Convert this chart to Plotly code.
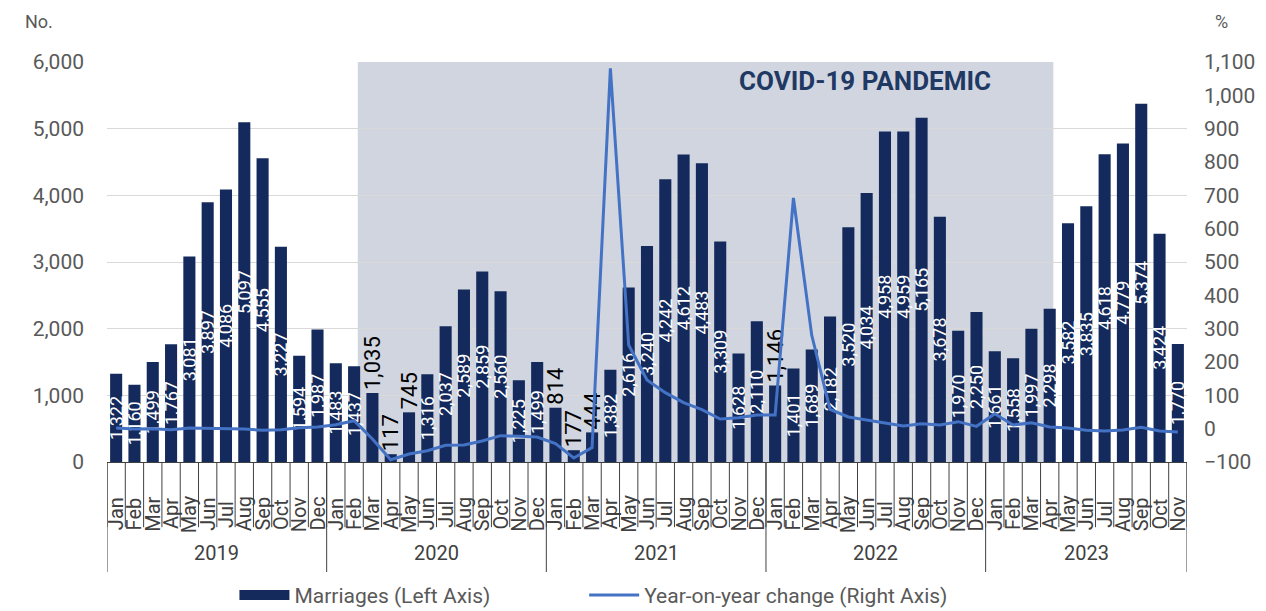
import plotly.graph_objects as go

years = ["2019", "2020", "2021", "2022", "2023"]
months = ["Jan", "Feb", "Mar", "Apr", "May", "Jun", "Jul", "Aug", "Sep", "Oct", "Nov", "Dec"]

marriages_2019 = [1322, 1160, 1499, 1767, 3081, 3897, 4086, 5097, 4555, 3227, 1594, 1987]
marriages_2020 = [1483, 1437, 1035, 117, 745, 1316, 2037, 2589, 2859, 2560, 1225, 1499]
marriages_2021 = [814, 177, 444, 1382, 2616, 3240, 4242, 4612, 4483, 3309, 1628, 2110]
marriages_2022 = [1146, 1401, 1689, 2182, 3520, 4034, 4958, 4959, 5165, 3678, 1970, 2250]
marriages_2023 = [1661, 1558, 1997, 2298, 3582, 3835, 4618, 4779, 5374, 3424, 1770]

yoy_2019 = [2, -1, 0, -3, 2, 1, 0, -1, -5, -3, 3, 5]
yoy_2020 = [12, 24, -31, -93, -76, -66, -50, -49, -37, -21, -23, -25]
yoy_2021 = [-45, -88, -57, 1081, 251, 146, 108, 78, 57, 29, 33, 41]
yoy_2022 = [41, 692, 280, 58, 35, 25, 17, 8, 15, 11, 21, 7]
yoy_2023 = [45, 11, 18, 5, 2, -5, -7, -4, 4, -7, -10]

# labels Excel put above the bar instead of inside it
outside_labels = [(2020, "Mar"), (2020, "Apr"), (2020, "May"), (2021, "Jan"),
                  (2021, "Feb"), (2021, "Mar"), (2022, "Jan")]

marriages = marriages_2019 + marriages_2020 + marriages_2021 + marriages_2022 + marriages_2023
yoy = yoy_2019 + yoy_2020 + yoy_2021 + yoy_2022 + yoy_2023
per_year = [len(marriages_2019), len(marriages_2020), len(marriages_2021),
            len(marriages_2022), len(marriages_2023)]

month_of = []
year_of = []
for y, n in zip(years, per_year):
    for m in months[:n]:
        month_of.append(m)
        year_of.append(int(y))
x = list(range(len(marriages)))

FONT = "Roboto, Arial, sans-serif"
GREY = "#595959"
DARK = "#404040"
BAR = "#142A5C"
LINE = "#4472C4"

positions = ["outside" if (yr, m) in outside_labels else "inside"
             for yr, m in zip(year_of, month_of)]

fig = go.Figure()
fig.add_bar(
    x=x, y=marriages, name="Marriages (Left Axis)", showlegend=False,
    marker=dict(color=BAR, line=dict(width=0)),
    text=[f"{v:,}" for v in marriages], textposition=positions,
    textangle=-90, insidetextanchor="middle", constraintext="none",
    insidetextfont=dict(color="white", size=18, family=FONT),
    outsidetextfont=dict(color="black", size=22, family=FONT),
    cliponaxis=False,
)
# legend entry for the bars: wide dark swatch like the original
fig.add_scatter(x=[None], y=[None], mode="lines", name="Marriages (Left Axis)",
                line=dict(color=BAR, width=15), legend="legend")
fig.add_scatter(
    x=x, y=yoy, name="Year-on-year change (Right Axis)", yaxis="y2",
    mode="lines", line=dict(color=LINE, width=3), legend="legend2",
)

# covid shading, Mar 2020 - Apr 2023
fig.add_shape(type="rect", xref="x", yref="paper", x0=13.2, x1=51.2, y0=0, y1=1,
              fillcolor="#D0D5DF", line=dict(width=0), layer="below")
fig.add_annotation(x=40.9, y=6000, xref="x", yref="y", text="<b>COVID-19 PANDEMIC</b>",
                   showarrow=False, yanchor="top", yshift=-2,
                   font=dict(family=FONT, size=26, color="#1F3864"))

# month labels and dividers
for i, m in enumerate(month_of):
    fig.add_annotation(x=i, y=-0.13, xref="x", yref="paper", text=m, textangle=-90,
                       showarrow=False, xanchor="center", yanchor="middle",
                       font=dict(family=FONT, size=20, color=DARK))
for i in range(len(x) + 1):
    fig.add_shape(type="line", xref="x", yref="paper", x0=i - 0.5, x1=i - 0.5,
                  y0=0, y1=-0.163, line=dict(color=DARK, width=1))

# year labels and dividers
start = 0
for y, n in zip(years, per_year):
    fig.add_annotation(x=start + (n - 1) / 2, y=-0.2275, xref="x", yref="paper", text=y,
                       showarrow=False, xanchor="center", yanchor="middle",
                       font=dict(family=FONT, size=20, color=DARK))
    fig.add_shape(type="line", xref="x", yref="paper", x0=start - 0.5, x1=start - 0.5,
                  y0=0, y1=-0.275, line=dict(color=DARK, width=1))
    start += n
fig.add_shape(type="line", xref="x", yref="paper", x0=start - 0.5, x1=start - 0.5,
              y0=0, y1=-0.275, line=dict(color=DARK, width=1))

fig.add_annotation(xref="paper", yref="paper", x=-0.0626, y=1.1325, text="No.",
                   showarrow=False, xanchor="center", yanchor="top",
                   font=dict(family=FONT, size=18, color=GREY))
fig.add_annotation(xref="paper", yref="paper", x=1.0324, y=1.1325, text="%",
                   showarrow=False, xanchor="center", yanchor="top",
                   font=dict(family=FONT, size=18, color=GREY))

legend_style = dict(orientation="h", xanchor="left", xref="container",
                    y=0.026, yanchor="middle", yref="container",
                    font=dict(family=FONT, size=21, color=GREY), itemwidth=50)

# the page body has an 8px margin, so the figure is sized to the window minus that
fig.update_layout(
    width=1258, height=603,
    margin=dict(l=99, r=79, t=54, b=149),
    plot_bgcolor="white", paper_bgcolor="white",
    bargap=0.34,
    font=dict(family=FONT, size=21, color=GREY),
    xaxis=dict(range=[-0.5, len(x) - 0.5], showticklabels=False, ticks="",
               showgrid=False, zeroline=False, showline=True,
               linecolor=DARK, linewidth=1),
    yaxis=dict(range=[0, 6000], dtick=1000, tickformat=",", showgrid=True,
               gridcolor="#D9D9D9", zeroline=False, showline=False, ticks="",
               ticklabelstandoff=22),
    yaxis2=dict(range=[-100, 1100], dtick=100, tickformat=",", overlaying="y",
                side="right", showgrid=False, zeroline=False, showline=False,
                ticks="", ticklabelstandoff=16),
    legend=dict(x=0.18, **legend_style),
    legend2=dict(x=0.458, **legend_style),
    showlegend=True,
)

fig.write_html("out.html")
